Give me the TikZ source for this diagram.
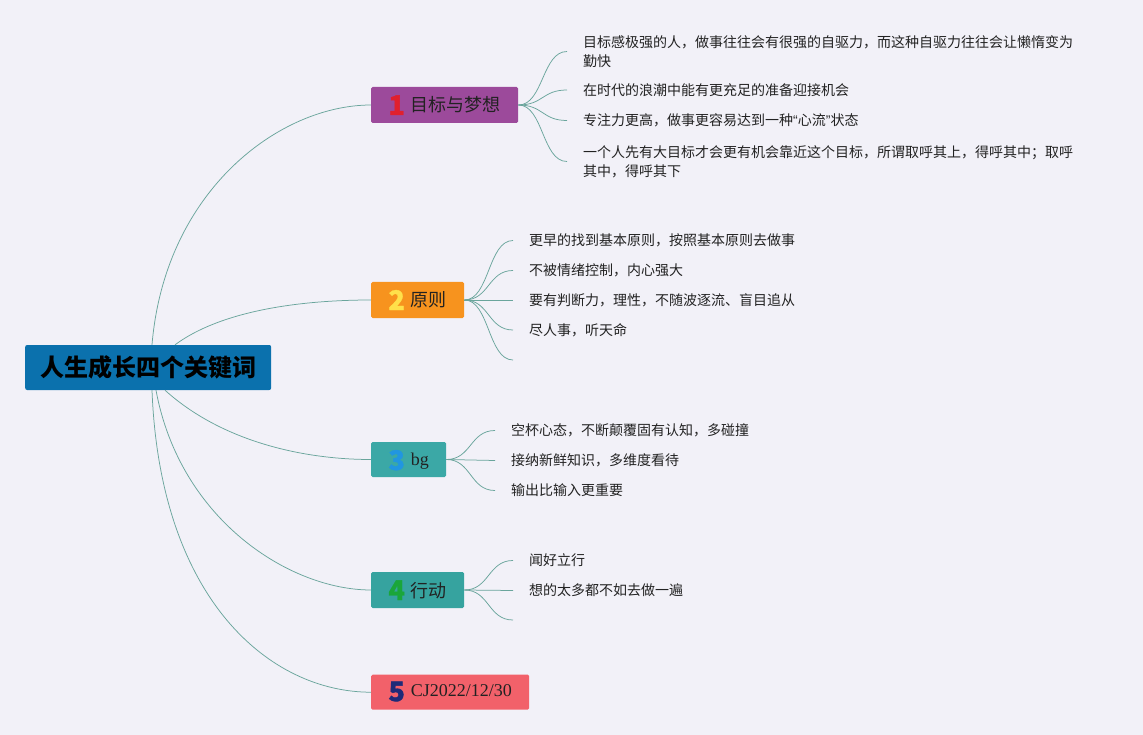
\documentclass[tikz,border=0pt]{standalone}
\usepackage{fontspec}
\setmainfont{Liberation Serif}
\newfontfamily\cjk{Noto Sans CJK SC}
\newfontfamily\digf{Noto Sans CJK SC}[BoldFeatures={FakeBold=1.2}]
\newfontfamily\lsans{Liberation Sans}
\definecolor{bgc}{HTML}{F2F1F8}
\definecolor{rootc}{HTML}{0B71AD}
\definecolor{purp}{HTML}{9C4A9B}
\definecolor{oran}{HTML}{F7931E}
\definecolor{tealA}{HTML}{3BA8A6}
\definecolor{tealB}{HTML}{36A39F}
\definecolor{redc}{HTML}{F2616A}
\definecolor{linec}{HTML}{6AA59C}
\definecolor{txt}{HTML}{222222}
\definecolor{dRed}{HTML}{E0202E}
\definecolor{dYel}{HTML}{FFE04A}
\definecolor{dBlue}{HTML}{2196E0}
\definecolor{dGreen}{HTML}{1AA63A}
\definecolor{dNavy}{HTML}{1E2A78}
% digit badge: colour, lowering, digit
\newcommand{\dg}[3]{\raisebox{-#2}{\color{#1}\digf\bfseries\fontsize{27}{27}\selectfont #3}\hspace{6pt}}
\tikzset{
  rootbox/.style={fill=rootc, rounded corners=2pt, minimum height=45pt, minimum width=246pt, inner sep=0pt, anchor=west, font=\cjk\bfseries\fontsize{24}{24}\selectfont, text=black},
  mainbox/.style={rounded corners=1.5pt, minimum height=36pt, inner sep=0pt, text height=14pt, text depth=0pt, anchor=west, font=\cjk\fontsize{18}{18}\selectfont, text=txt},
  leaf/.style={anchor=west, inner xsep=16pt, inner ysep=2pt, font=\cjk\fontsize{14}{19}\selectfont, text=txt, align=left},
  conn/.style={draw=linec, line width=0.75pt},
}
\begin{document}
\begin{tikzpicture}[x=1pt,y=-1pt]
\fill[bgc] (0,0) rectangle (1143,735);
\useasboundingbox (0,0) rectangle (1143,735);

% root
\node[rootbox] (root) at (25,367.5) {人生成长四个关键词};

% main nodes
\node[mainbox, fill=purp, minimum width=147pt] (n1) at (371,105) {\dg{dRed}{3pt}{1}目标与梦想};
\node[mainbox, fill=oran, minimum width=93pt] (n2) at (371,300) {\dg{dYel}{3pt}{2}原则};
\node[mainbox, fill=tealA, minimum width=75pt, minimum height=35pt, text height=11pt] (n3) at (371,459.5) {\dg{dBlue}{5pt}{3}{\rmfamily bg}};
\node[mainbox, fill=tealB, minimum width=93pt] (n4) at (371,590) {\dg{dGreen}{3pt}{4}行动};
\node[mainbox, fill=redc, minimum width=158pt, minimum height=35pt, text height=8pt] (n5) at (371,692.2) {\dg{dNavy}{5pt}{5}{\rmfamily CJ2022/12/30}};

% root connectors
\coordinate (rt1) at ([xshift=127pt]root.north west);
\coordinate (rt2) at ([xshift=150pt]root.north west);
\coordinate (rb3) at ([xshift=140pt]root.south west);
\coordinate (rb4) at ([xshift=131pt]root.south west);
\coordinate (rb5) at ([xshift=127pt]root.south west);
\draw[conn] (rt1) .. controls (165,190) and (280,105) .. (n1.west);
\draw[conn] (rt2) .. controls (225,308) and (310,300) .. (n2.west);
\draw[conn] (rb3) .. controls (220,440) and (300,459.5) .. (n3.west);
\draw[conn] (rb4) .. controls (180,520) and (290,590) .. (n4.west);
\draw[conn] (rb5) .. controls (160,600) and (270,692.2) .. (n5.west);

% leaves of 1
\node[leaf] (l11) at (567,51.5) {目标感极强的人，做事往往会有很强的自驱力，而这种自驱力往往会让懒惰变为\\勤快};
\node[leaf] (l12) at (567,90) {在时代的浪潮中能有更充足的准备迎接机会};
\node[leaf] (l13) at (567,120.5) {专注力更高，做事更容易达到一种{\lsans “}心流{\lsans ”}状态};
\node[leaf] (l14) at (567,161.5) {一个人先有大目标才会更有机会靠近这个目标，所谓取呼其上，得呼其中；取呼\\其中，得呼其下};
\foreach \t in {l11,l12,l13,l14}
  \draw[conn] (n1.east) .. controls ++(25,0) and ([xshift=-25pt]\t.west) .. (\t.west);

% leaves of 2
\node[leaf] (l21) at (513,240.5) {更早的找到基本原则，按照基本原则去做事};
\node[leaf] (l22) at (513,270.5) {不被情绪控制，内心强大};
\node[leaf] (l23) at (513,300) {要有判断力，理性，不随波逐流、盲目追从};
\node[leaf] (l24) at (513,330) {尽人事，听天命};
\coordinate (l25) at (513,360);
\foreach \t in {l21,l22,l23,l24}
  \draw[conn] (n2.east) .. controls ++(25,0) and ([xshift=-25pt]\t.west) .. (\t.west);
\draw[conn] (n2.east) .. controls ++(25,0) and ([xshift=-25pt]l25) .. (l25);

% leaves of 3
\node[leaf] (l31) at (495,430.5) {空杯心态，不断颠覆固有认知，多碰撞};
\node[leaf] (l32) at (495,460.5) {接纳新鲜知识，多维度看待};
\node[leaf] (l33) at (495,490.5) {输出比输入更重要};
\foreach \t in {l31,l32,l33}
  \draw[conn] (n3.east) .. controls ++(25,0) and ([xshift=-25pt]\t.west) .. (\t.west);

% leaves of 4
\node[leaf] (l41) at (513,560.5) {闻好立行};
\node[leaf] (l42) at (513,590.5) {想的太多都不如去做一遍};
\coordinate (l43) at (513,620);
\foreach \t in {l41,l42}
  \draw[conn] (n4.east) .. controls ++(25,0) and ([xshift=-25pt]\t.west) .. (\t.west);
\draw[conn] (n4.east) .. controls ++(25,0) and ([xshift=-25pt]l43) .. (l43);
\end{tikzpicture}
\end{document}
